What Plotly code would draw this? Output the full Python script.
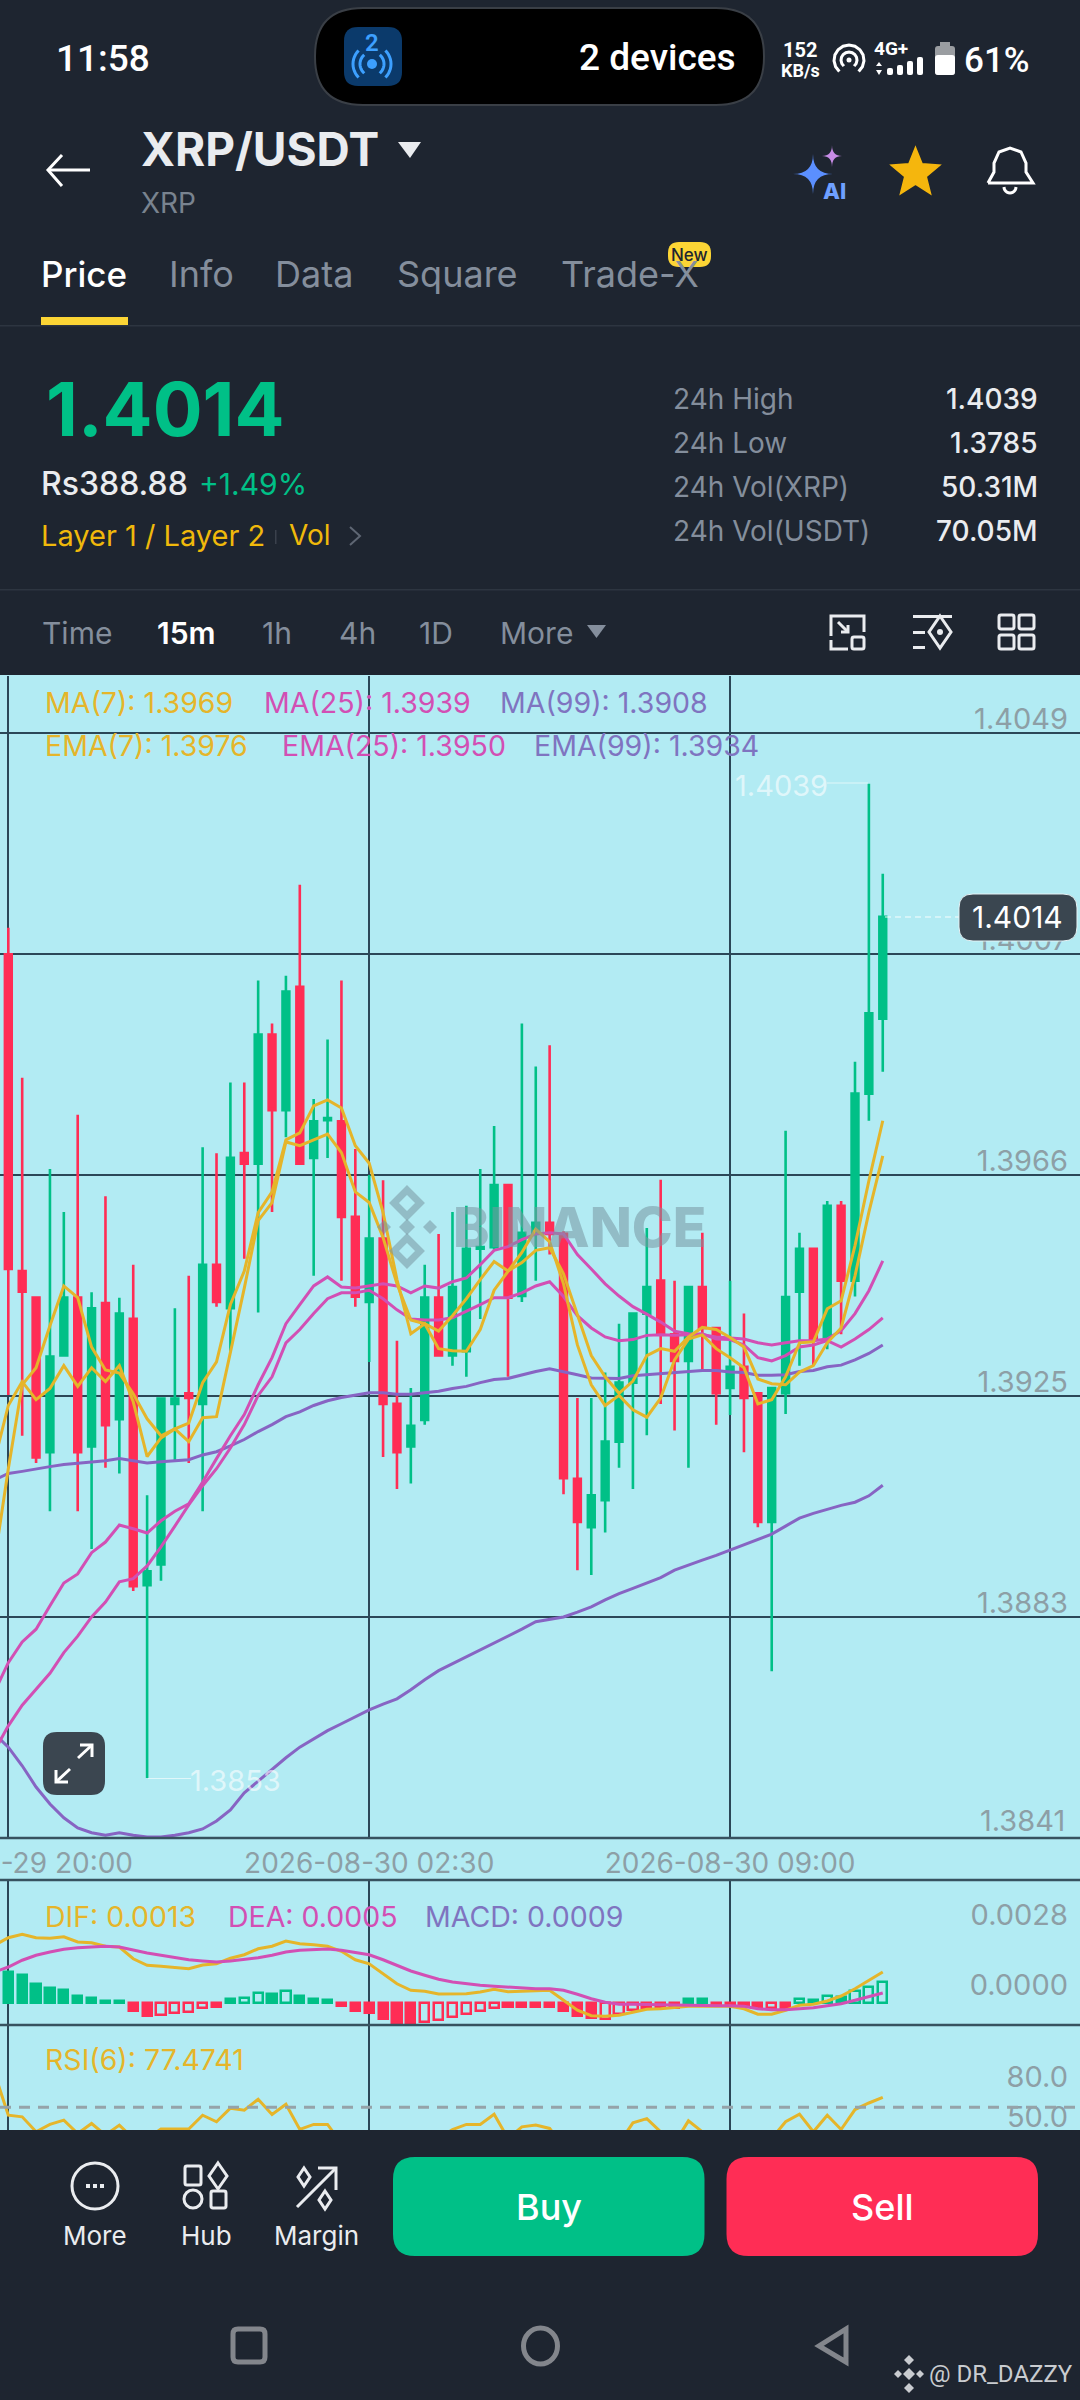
import math
import pandas as pd
import plotly.graph_objects as go

# 15 minute candles
candle_time = pd.date_range("2026-08-29 20:00", periods=64, freq="15min")
line_time = pd.date_range("2026-08-29 19:45", periods=65, freq="15min")

candle_open = [
    1.40073, 1.39477, 1.39427, 1.39136, 1.39318, 1.39427, 1.39147, 1.39417, 1.39198, 1.39387,
    1.38886, 1.38925, 1.39227, 1.39247, 1.39227, 1.39489, 1.39407, 1.39699, 1.39679, 1.39922,
    1.3978, 1.40012, 1.3969, 1.39761, 1.39759, 1.39579, 1.39419, 1.39538, 1.39227, 1.39147,
    1.39197, 1.39427, 1.39318, 1.39326, 1.39519, 1.39522, 1.39639, 1.3943, 1.39549, 1.39568,
    1.39547, 1.39086, 1.38995, 1.39046, 1.39156, 1.39267, 1.39397, 1.39459, 1.39358, 1.39308,
    1.39447, 1.3937, 1.39257, 1.39297, 1.39247, 1.39005, 1.39247, 1.39438, 1.39519, 1.3935,
    1.396, 1.39459, 1.39811, 1.39952]
candle_high = [
    1.40123, 1.39841, 1.39427, 1.39669, 1.39588, 1.39771, 1.39437, 1.39618, 1.39427, 1.39489,
    1.39055, 1.39238, 1.39407, 1.39468, 1.3971, 1.39699, 1.39832, 1.39832, 1.40024, 1.39943,
    1.40033, 1.40204, 1.39801, 1.39913, 1.40024, 1.39707, 1.39658, 1.39648, 1.39346, 1.39257,
    1.39489, 1.39547, 1.39588, 1.396, 1.39669, 1.3975, 1.39639, 1.39943, 1.39862, 1.39902,
    1.39552, 1.39238, 1.39238, 1.39286, 1.39378, 1.39397, 1.39558, 1.39649, 1.39459, 1.39447,
    1.39549, 1.3937, 1.39459, 1.39397, 1.39247, 1.39257, 1.39741, 1.39549, 1.39519, 1.39609,
    1.39609, 1.39871, 1.40394, 1.40225]
candle_low = [
    1.39244, 1.39167, 1.39116, 1.39025, 1.39318, 1.39025, 1.38954, 1.39107, 1.39096, 1.38875,
    1.38523, 1.38894, 1.39118, 1.39116, 1.39025, 1.3941, 1.39327, 1.395, 1.39399, 1.39588,
    1.39729, 1.39679, 1.39468, 1.3969, 1.39459, 1.3941, 1.39306, 1.39127, 1.39067, 1.39077,
    1.39188, 1.39316, 1.39299, 1.39278, 1.39387, 1.39517, 1.39278, 1.39419, 1.39459, 1.39508,
    1.39057, 1.38914, 1.38905, 1.38985, 1.39107, 1.39067, 1.39168, 1.39227, 1.39177, 1.39107,
    1.39291, 1.39188, 1.39206, 1.39136, 1.38995, 1.38724, 1.39208, 1.39299, 1.39299, 1.3933,
    1.39358, 1.39429, 1.3976, 1.39852]
candle_close = [
    1.39481, 1.39438, 1.39126, 1.39316, 1.39427, 1.39136, 1.39407, 1.39187, 1.39397, 1.38884,
    1.38912, 1.39237, 1.39237, 1.39238, 1.39489, 1.39419, 1.3969, 1.39679, 1.39922, 1.3978,
    1.40003, 1.39679, 1.39759, 1.39765, 1.39579, 1.39429, 1.39538, 1.39227, 1.39136, 1.39186,
    1.39427, 1.39318, 1.39447, 1.39519, 1.39522, 1.39639, 1.39427, 1.39549, 1.39568, 1.39547,
    1.39087, 1.39005, 1.39055, 1.39156, 1.39267, 1.39397, 1.39447, 1.39358, 1.39308, 1.39447,
    1.3937, 1.39247, 1.39297, 1.39238, 1.39005, 1.39257, 1.39428, 1.39519, 1.39348, 1.396,
    1.39459, 1.39811, 1.39962, 1.40144]

ema7 = [
    1.3893, 1.39105, 1.39263, 1.39295, 1.39374, 1.39449, 1.39427, 1.39334, 1.39291, 1.39285,
    1.39246, 1.39199, 1.39167, 1.3918, 1.39191, 1.39267, 1.39306, 1.39414, 1.39477, 1.39587,
    1.39626, 1.39724, 1.39737, 1.39788, 1.39799, 1.39784, 1.39713, 1.3968, 1.39587, 1.39461,
    1.39359, 1.39378, 1.39331, 1.39327, 1.39326, 1.39367, 1.39441, 1.39477, 1.39512, 1.39556,
    1.39532, 1.39453, 1.39338, 1.39263, 1.39224, 1.39243, 1.39216, 1.39202, 1.39238, 1.3931,
    1.39349, 1.39357, 1.39331, 1.39314, 1.39295, 1.39227, 1.39235, 1.39278, 1.39342, 1.39344,
    1.39406, 1.39421, 1.39525, 1.39647, 1.3976]
ma7 = [
    1.3912, 1.39224, 1.39269, 1.39235, 1.39256, 1.39299, 1.3926, 1.39295, 1.39269, 1.39299,
    1.39231, 1.39128, 1.39163, 1.3918, 1.39156, 1.39201, 1.39203, 1.39321, 1.39445, 1.39572,
    1.39606, 1.3972, 1.39713, 1.39724, 1.39735, 1.397, 1.39626, 1.39606, 1.3954, 1.39453,
    1.39385, 1.39378, 1.39364, 1.39393, 1.39425, 1.39461, 1.39495, 1.39477, 1.39493, 1.39516,
    1.39521, 1.39472, 1.39393, 1.39318, 1.39278, 1.39247, 1.3927, 1.39318, 1.39331, 1.39326,
    1.39353, 1.39371, 1.39367, 1.39352, 1.39334, 1.39274, 1.39265, 1.39263, 1.39287, 1.39299,
    1.39342, 1.3937, 1.39468, 1.39588, 1.39694]
ema25 = [
    1.38685, 1.3874, 1.38779, 1.38803, 1.38847, 1.3889, 1.38907, 1.38947, 1.38967, 1.38999,
    1.38992, 1.38984, 1.39007, 1.39025, 1.39039, 1.3908, 1.39124, 1.39167, 1.39207, 1.39263,
    1.39314, 1.39378, 1.39414, 1.39449, 1.39466, 1.39447, 1.39445, 1.39449, 1.39453, 1.39449,
    1.39436, 1.39449, 1.39445, 1.39457, 1.39464, 1.39489, 1.39516, 1.39523, 1.39536, 1.39547,
    1.39549, 1.39547, 1.39508, 1.39481, 1.39453, 1.3943, 1.3941, 1.39396, 1.39381, 1.39364,
    1.39359, 1.39357, 1.39353, 1.39351, 1.39349, 1.39342, 1.39338, 1.39342, 1.39346, 1.39346,
    1.39349, 1.39365, 1.39397, 1.3944, 1.39496]
ma25 = [
    1.38574, 1.38621, 1.3866, 1.38689, 1.3872, 1.38759, 1.3879, 1.38826, 1.38854, 1.38892,
    1.38898, 1.38922, 1.38958, 1.38997, 1.39037, 1.39073, 1.39105, 1.39144, 1.39188, 1.39243,
    1.39278, 1.39342, 1.39367, 1.39397, 1.39425, 1.39436, 1.39436, 1.39441, 1.39425, 1.39404,
    1.39387, 1.39385, 1.39385, 1.39389, 1.39401, 1.39414, 1.39427, 1.39427, 1.39436, 1.39449,
    1.39457, 1.39429, 1.39393, 1.3937, 1.39353, 1.39346, 1.39348, 1.39356, 1.39357, 1.39356,
    1.39357, 1.39359, 1.39349, 1.39348, 1.39338, 1.39314, 1.39308, 1.39318, 1.39334, 1.39338,
    1.39346, 1.39334, 1.39349, 1.39367, 1.39389]
ema99 = [
    1.39084, 1.39096, 1.391, 1.39105, 1.39109, 1.39113, 1.39115, 1.39118, 1.3912, 1.39124,
    1.3912, 1.39116, 1.39118, 1.3912, 1.39122, 1.39131, 1.39137, 1.39148, 1.3916, 1.39175,
    1.39188, 1.39203, 1.39212, 1.39224, 1.39233, 1.39239, 1.39243, 1.39248, 1.39248, 1.39245,
    1.39245, 1.39248, 1.39251, 1.39256, 1.3926, 1.39267, 1.39273, 1.39275, 1.39282, 1.39288,
    1.39293, 1.39288, 1.39282, 1.39276, 1.39275, 1.39275, 1.3928, 1.39282, 1.39284, 1.39287,
    1.39288, 1.3929, 1.3929, 1.39287, 1.39286, 1.39281, 1.39281, 1.39282, 1.39288, 1.3929,
    1.39297, 1.393, 1.3931, 1.39322, 1.39338]
ma99 = [
    1.38606, 1.38581, 1.38546, 1.38506, 1.38474, 1.38448, 1.38429, 1.3842, 1.38415, 1.3842,
    1.38415, 1.38412, 1.38412, 1.38415, 1.3842, 1.38427, 1.38442, 1.38463, 1.38495, 1.38517,
    1.38538, 1.38561, 1.38581, 1.38596, 1.38612, 1.38625, 1.38638, 1.38651, 1.38662, 1.38672,
    1.38689, 1.38708, 1.38725, 1.38738, 1.38751, 1.38764, 1.38777, 1.38789, 1.38803, 1.38817,
    1.38822, 1.38826, 1.38835, 1.38845, 1.38858, 1.3887, 1.3888, 1.3889, 1.389, 1.38914,
    1.38924, 1.38933, 1.38942, 1.38952, 1.38961, 1.38971, 1.38982, 1.38997, 1.39012, 1.39021,
    1.39029, 1.39036, 1.39042, 1.39054, 1.39074]

macd_hist = [
    0.00137, 0.00124, 0.00111, 0.00077, 0.00061, 0.00053, 0.00027, 0.0002, 0.00009, 0.00009,
    -0.00032, -0.00052, -0.00047, -0.0004, -0.00037, -0.00019, -0.00017, 0.00015, 0.0002, 0.0004,
    0.00035, 0.00048, 0.00027, 0.00016, 0.00011, -0.00013, -0.00033, -0.0004, -0.00064, -0.0008,
    -0.00085, -0.00076, -0.00069, -0.00056, -0.00043, -0.00032, -0.00019, -0.00017, -0.00017, -0.00017,
    -0.00017, -0.00033, -0.00053, -0.0006, -0.00063, -0.00043, -0.00027, -0.00019, -0.00019, -0.00019,
    0.00015, 0.00015, -0.0001, -0.00005, -0.00013, -0.00019, -0.0002, -0.00019, 0.00017, 0.00011,
    0.00028, 0.00024, 0.00047, 0.00064, 0.00084]
# positions in macd_hist that are drawn as outlines
macd_hollow = [12, 13, 14, 15, 18, 19, 21, 31, 32, 33, 34, 35, 36, 44, 45, 46, 56, 58, 60, 62, 63, 64]
dif = [
    0.00231, 0.00261, 0.00275, 0.00261, 0.00259, 0.00265, 0.00244, 0.00241, 0.00227, 0.00224,
    0.00177, 0.00151, 0.00147, 0.00141, 0.00137, 0.00152, 0.00157, 0.00179, 0.00193, 0.00217,
    0.00227, 0.00248, 0.00237, 0.00233, 0.00227, 0.00207, 0.00173, 0.00157, 0.00117, 0.00077,
    0.00051, 0.00047, 0.00036, 0.00035, 0.00037, 0.00044, 0.00055, 0.00045, 0.00048, 0.00051,
    0.00051, 0.00011, -0.00029, -0.00051, -0.00053, -0.00049, -0.00036, -0.00025, -0.00023, -0.00019,
    -0.00013, -0.00013, -0.00013, -0.00013, -0.00023, -0.00045, -0.00045, -0.00029, -0.00009, -0.00005,
    0.00008, 0.00028, 0.00057, 0.00091, 0.00124]
dea = [
    0.00124, 0.00144, 0.00171, 0.00191, 0.00204, 0.00215, 0.00221, 0.00224, 0.00227, 0.00224,
    0.00211, 0.002, 0.00191, 0.00181, 0.00173, 0.00168, 0.00164, 0.00168, 0.00173, 0.00181,
    0.00191, 0.00204, 0.00211, 0.00215, 0.00216, 0.00211, 0.00203, 0.00193, 0.00173, 0.00151,
    0.00128, 0.00111, 0.00095, 0.00084, 0.00077, 0.00071, 0.00067, 0.00063, 0.0006, 0.00057,
    0.00057, 0.00051, 0.00035, 0.00017, 0.00003, -0.00005, -0.00005, -0.00005, -0.00007, -0.00008,
    -0.00009, -0.00011, -0.00011, -0.00011, -0.00013, -0.00023, -0.00027, -0.00027, -0.00023, -0.00019,
    -0.00011, -0.00003, 0.00011, 0.00024, 0.0004]
rsi6 = [
    95.9, 64.0, 62.8, 51.6, 57.1, 60.3, 50.3, 57.8, 49.1, 56.6,
    46.6, 46.6, 53.6, 53.6, 53.6, 64.0, 59.1, 69.3, 67.8, 76.0,
    64.5, 72.2, 53.3, 57.1, 57.1, 42.9, 40.4, 36.7, 35.4, 34.2,
    36.7, 40.4, 46.6, 53.3, 57.1, 57.1, 64.8, 46.6, 55.3, 56.6,
    54.1, 40.4, 35.4, 34.2, 37.9, 42.9, 58.3, 61.5, 51.6, 42.9,
    59.8, 51.6, 40.4, 36.7, 36.7, 40.4, 46.6, 59.1, 64.8, 51.6,
    64.0, 53.3, 68.3, 73.2, 77.47]

price_ticks = [1.4049, 1.40074, 1.39658, 1.39242, 1.38826]
price_labels = ["1.4049", "1.4007", "1.3966", "1.3925", "1.3883"]

BG = "#1E2530"
PANE = "#B2EBF3"
GREEN = "#00C087"
RED = "#FF2D55"
YELLOW = "#E5B52A"
MAGENTA = "#D24FB4"
PURPLE = "#8764C3"
GRID = "#2B4757"
AXIS_TXT = "#8D9FA6"
FONT = "Inter"
W, H = 1080, 2400


def px(x):
    return x / W


def py(y):
    return 1 - y / H


shapes = []
notes = []


def txt(x, y, s, size, color, anchor="left", weight=400, family=FONT):
    notes.append(dict(x=px(x), y=py(y), xref="paper", yref="paper", text=s, showarrow=False,
                      xanchor=anchor, yanchor="middle", borderpad=0,
                      font=dict(size=size, color=color, family=family, weight=weight)))


def path(d, fill=None, line=None, lw=0, layer="above", dash=None):
    shape = dict(type="path", path=d, xref="paper", yref="paper", layer=layer,
                 fillcolor=fill or "rgba(0,0,0,0)",
                 line=dict(color=line or "rgba(0,0,0,0)", width=lw, dash=dash or "solid"))
    shapes.append(shape)


def poly(points, fill=None, line=None, lw=0, close=False, dash=None):
    d = "M" + " L".join(f"{px(a):.5f},{py(b):.5f}" for a, b in points) + (" Z" if close else "")
    path(d, fill, line, lw, dash=dash)


def box(x0, y0, x1, y1, fill=None, line=None, lw=0, r=0, layer="above"):
    P = lambda a, b: f"{px(a):.5f},{py(b):.5f}"
    d = (f"M{P(x0 + r, y0)} L{P(x1 - r, y0)} Q{P(x1, y0)} {P(x1, y0 + r)} "
         f"L{P(x1, y1 - r)} Q{P(x1, y1)} {P(x1 - r, y1)} L{P(x0 + r, y1)} "
         f"Q{P(x0, y1)} {P(x0, y1 - r)} L{P(x0, y0 + r)} Q{P(x0, y0)} {P(x0 + r, y0)} Z")
    path(d, fill, line, lw, layer)


def circle(cx, cy, rx, ry=None, fill=None, line=None, lw=0):
    ry = ry or rx
    shapes.append(dict(type="circle", xref="paper", yref="paper", layer="above",
                       x0=px(cx - rx), x1=px(cx + rx), y0=py(cy + ry), y1=py(cy - ry),
                       fillcolor=fill or "rgba(0,0,0,0)",
                       line=dict(color=line or "rgba(0,0,0,0)", width=lw)))


def spark(cx, cy, rx, ry, fill):
    P = lambda a, b: f"{px(a):.5f},{py(b):.5f}"
    d = (f"M{P(cx, cy - ry)} Q{P(cx, cy)} {P(cx + rx, cy)} Q{P(cx, cy)} {P(cx, cy + ry)} "
         f"Q{P(cx, cy)} {P(cx - rx, cy)} Q{P(cx, cy)} {P(cx, cy - ry)} Z")
    path(d, fill)


def diamond(cx, cy, rx, ry=None, fill=None, line=None, lw=0):
    ry = ry or rx
    poly([(cx, cy - ry), (cx + rx, cy), (cx, cy + ry), (cx - rx, cy)], fill, line, lw, True)


def arc(cx, cy, r, a0, a1, line, lw):
    pts = []
    for k in range(13):
        a = math.radians(a0 + (a1 - a0) * k / 12)
        pts.append((cx + r * math.cos(a), cy + r * math.sin(a)))
    poly(pts, None, line, lw)


# pane background and the bottom bar that cuts the RSI pane off
box(0, 675, W, 2132, PANE, layer="below")
box(0, 2130, W, H, BG)

# separators between panes
for sep in [1838, 1880, 2025]:
    shapes.append(dict(type="line", xref="paper", yref="paper", x0=0, x1=1, y0=py(sep), y1=py(sep),
                       layer="above", line=dict(color="#37525F", width=2.5)))
# RSI band
shapes.append(dict(type="line", xref="paper", yref="y3", x0=0, x1=1, y0=70, y1=70, layer="above",
                   line=dict(color="#95A3A9", width=3, dash="11px,8px")))

# status bar
txt(55, 58, "11:58", 37, "#FFFFFF", weight=500, family="Roboto")
box(315, 8, 764, 105, "#000000", "#3A3F46", 2, 48)
box(344, 27, 402, 86, "#0B3A6B", r=14)
txt(372, 43, "2", 24, "#3DA0FF", "center", 600, "Roboto")
circle(372, 64, 5, fill="#3DA0FF")
arc(372, 64, 12, -50, 50, "#3DA0FF", 3)
arc(372, 64, 12, 130, 230, "#3DA0FF", 3)
arc(372, 64, 19, -45, 45, "#3DA0FF", 3)
arc(372, 64, 19, 135, 225, "#3DA0FF", 3)
txt(737, 57, "2 devices", 37, "#FFFFFF", "right", 500, "Roboto")
txt(800, 50, "152", 20, "#FFFFFF", "center", 700, "Roboto")
txt(800, 71, "KB/s", 18, "#FFFFFF", "center", 700, "Roboto")
arc(849, 60, 15, 130, 410, "#FFFFFF", 3)
arc(849, 60, 8, 130, 410, "#FFFFFF", 3)
circle(849, 60, 2.5, fill="#FFFFFF")
txt(891, 49, "4G+", 19, "#FFFFFF", "center", 700, "Roboto")
for bx, top in [(890, 68), (900, 65), (910, 61), (920, 57)]:
    box(bx - 3, top, bx + 3, 75, "#FFFFFF", r=2)
poly([(879, 62), (882, 66), (876, 66)], "#FFFFFF", close=True)
poly([(879, 75), (882, 70), (876, 70)], "#FFFFFF", close=True)
box(935, 46, 955, 75, "#9A9DA1", r=3)
box(940, 42, 950, 46, "#9A9DA1")
box(935, 55, 955, 75, "#FFFFFF", r=3)
txt(963, 60, "61%", 35, "#FFFFFF", weight=500, family="Roboto")

# header
poly([(48, 170), (90, 170)], None, "#FFFFFF", 3)
poly([(62, 155), (48, 170), (62, 186)], None, "#FFFFFF", 3)
txt(140, 149, "XRP/USDT", 46, "#EAECEF", weight=700)
poly([(398, 142), (421, 142), (410, 158)], "#EAECEF", close=True)
txt(140, 203, "XRP", 28, "#79838F")
spark(813, 174, 20, 20, "#5B8FFF")
spark(832, 156, 10, 11, "#C78CE6")
txt(834, 191, "AI", 22, "#6FA0FF", "center", 800)
star_pts = []
for k in range(10):
    r_ = 25 if k % 2 == 0 else 11
    a = math.radians(-90 + 36 * k)
    star_pts.append((915.5 + r_ * math.cos(a), 173 + r_ * math.sin(a)))
poly(star_pts, "#F5B60D", "#F5B60D", 2, True)
bell = [(988, 183), (994, 172), (994, 163), (999, 152), (1010, 148), (1021, 152), (1026, 163), (1026, 172),
        (1033, 183), (988, 183)]
poly(bell, None, "#FFFFFF", 3)
arc(1010, 187, 6, 0, 180, "#FFFFFF", 3)

# tabs
txt(40, 274, "Price", 35, "#FFFFFF", weight=500)
for tx, name in [(168, "Info"), (274, "Data"), (396, "Square"), (560, "Trade-X")]:
    txt(tx, 274, name, 36, "#848E9C")
box(668, 242, 711, 267, "#FCD535", r=11)
txt(689.5, 255, "New", 17, "#1E2530", "center", 500)
box(41, 317, 128, 325, "#FCD535")
box(0, 325, W, 326.5, "#2D3540")

# price summary
txt(45, 409, "1.4014", 74, GREEN, weight=700)
txt(40, 483, "Rs388.88", 32, "#EAECEF", weight=500)
txt(198, 484, "+1.49%", 30, GREEN)
txt(40, 535, "Layer 1 / Layer 2", 29, "#F0B90B")
box(275, 530, 276.5, 544, "#3A414C")
txt(288, 535, "Vol", 28, "#F0B90B")
poly([(350, 527), (360, 536), (350, 545)], None, "#5E6673", 2)
rows = [(399, "24h High", "1.4039"), (443, "24h Low", "1.3785"),
        (487, "24h Vol(XRP)", "50.31M"), (531, "24h Vol(USDT)", "70.05M")]
for ry, lab, val in rows:
    txt(672, ry, lab, 28, "#848E9C")
    txt(1039, ry, val, 28, "#EAECEF", "right", 500)
box(0, 589, W, 590.5, "#2D3540")

# interval bar
txt(41, 633, "Time", 30, "#848E9C")
txt(156, 633, "15m", 30, "#FFFFFF", weight=600)
for tx, name in [(261, "1h"), (338, "4h"), (418, "1D"), (499, "More")]:
    txt(tx, 633, name, 30, "#848E9C")
poly([(587, 625), (606, 625), (596.5, 638)], "#848E9C", close=True)
poly([(831, 636), (831, 616), (864, 616), (864, 632)], None, "#EAECEF", 3)
poly([(831, 640), (831, 649), (848, 649)], None, "#EAECEF", 3)
poly([(838, 622), (848, 632)], None, "#EAECEF", 3)
poly([(841, 632), (848, 632), (848, 625)], None, "#EAECEF", 3)
box(852, 637, 864, 649, None, "#EAECEF", 3, 2)
box(913, 615, 952, 618, "#EAECEF")
box(913, 631, 925, 634, "#EAECEF")
box(913, 646, 925, 649, "#EAECEF")
diamond(940, 632, 11, 16, None, "#EAECEF", 3)
circle(940, 632, 3, fill="#EAECEF")
for bx, by in [(999, 615), (1019, 615), (999, 635), (1019, 635)]:
    box(bx, by, bx + 15, by + 14, None, "#EAECEF", 3, 2)

# chart legends
for tx, ty, s, c in [(44, 702, "MA(7): 1.3969", YELLOW), (263, 702, "MA(25): 1.3939", MAGENTA),
                     (499, 702, "MA(99): 1.3908", "#7F74C0"), (44, 746, "EMA(7): 1.3976", YELLOW),
                     (281, 746, "EMA(25): 1.3950", MAGENTA), (533, 746, "EMA(99): 1.3934", "#7F74C0"),
                     (44, 1916, "DIF: 0.0013", YELLOW), (227, 1916, "DEA: 0.0005", MAGENTA),
                     (424, 1916, "MACD: 0.0009", "#7F74C0"), (44, 2059, "RSI(6): 77.4741", YELLOW)]:
    txt(tx, ty, s, 28.5, c)

# bottom price label sits on the pane edge, plotly drops it as a tick label
txt(1066, 1820, "1.3841", 29, AXIS_TXT, "right")

# watermark
wm = "rgba(120,150,160,0.55)"
diamond(407, 1203, 13, 13, None, wm, 7)
diamond(407, 1251, 13, 13, None, wm, 7)
diamond(407, 1227, 8, 8, wm)
diamond(384, 1227, 7, 7, wm)
diamond(430, 1227, 7, 7, wm)
txt(452, 1227, "BINANCE", 55, wm, weight=800)

# high / low / last price tags
txt(734, 785, "1.4039", 29, "rgba(255,255,255,0.6)")
box(827, 782.5, 868, 783.5, "rgba(255,255,255,0.6)")
txt(189, 1780, "1.3853", 29, "rgba(255,255,255,0.6)")
box(148, 1778, 191, 1779, "rgba(255,255,255,0.6)")
poly([(885, 917), (959, 917)], None, "rgba(255,255,255,0.6)", 1.5, dash="6px,4px")
box(959, 894, 1077, 941, "#3A4650", "#E6F2F5", 1, 14)
txt(1018, 917, "1.4014", 30, "#FFFFFF", "center")

# expand button
box(43, 1732, 105, 1795, "#3B4650", r=14)
poly([(56, 1782), (70, 1769)], None, "#FFFFFF", 3)
poly([(78, 1758), (92, 1745)], None, "#FFFFFF", 3)
poly([(80, 1745), (92, 1745), (92, 1757)], None, "#FFFFFF", 3)
poly([(56, 1770), (56, 1782), (68, 1782)], None, "#FFFFFF", 3)

# bottom bar
white = "#EAECEF"
circle(95, 2186, 23, line=white, lw=3)
for dx in (-7, 0, 7):
    box(95 + dx - 2, 2184, 95 + dx + 2, 2188, white)
txt(95, 2235, "More", 26, white, "center")
box(185, 2166, 201, 2185, None, white, 3, 2)
diamond(218, 2176, 9, 13, None, white, 3)
circle(193, 2199, 9, line=white, lw=3)
box(211, 2191, 226, 2208, None, white, 3, 2)
txt(206, 2235, "Hub", 26, white, "center")
poly([(297, 2207), (335, 2169)], None, white, 3)
poly([(318, 2168), (336, 2168), (336, 2190)], None, white, 3)
diamond(304, 2177, 6, 9, None, white, 3)
diamond(325, 2200, 6, 9, None, white, 3)
txt(316, 2235, "Margin", 26, white, "center")
box(393, 2157, 704.5, 2256, GREEN, r=22)
txt(549, 2207, "Buy", 36, "#FFFFFF", "center", 500)
box(726.5, 2157, 1038, 2256, RED, r=22)
txt(882, 2207, "Sell", 36, "#FFFFFF", "center", 500)

# navigation keys
nav = "#83868C"
box(233, 2329, 265, 2362, None, nav, 5, 5)
circle(540.5, 2346, 17, 18, line=nav, lw=5)
poly([(846, 2329), (846, 2362), (819, 2346)], None, nav, 5, True)
mark = "#C9CCD0"
diamond(909, 2374, 6, 6, mark)
diamond(909, 2360, 5, 5, mark)
diamond(909, 2388, 5, 5, mark)
diamond(898, 2374, 4, 4, mark)
diamond(920, 2374, 4, 4, mark)
txt(928, 2374, "@ DR_DAZZY", 24, mark, family="Roboto")

fig = go.Figure()
fig.add_trace(go.Candlestick(
    x=candle_time, open=candle_open, high=candle_high, low=candle_low, close=candle_close,
    whiskerwidth=0, xaxis="x", yaxis="y",
    increasing=dict(line=dict(color=GREEN, width=2.6), fillcolor=GREEN),
    decreasing=dict(line=dict(color=RED, width=2.6), fillcolor=RED)))
for series, color in [(ma99, PURPLE), (ema99, PURPLE), (ma25, MAGENTA), (ema25, MAGENTA), (ma7, YELLOW), (ema7, YELLOW)]:
    fig.add_trace(go.Scatter(x=line_time, y=series, mode="lines", xaxis="x", yaxis="y",
                             line=dict(color=color, width=3)))

bar_color = [GREEN if v > 0 else RED for v in macd_hist]
bar_fill = [PANE if i in macd_hollow else c for i, c in enumerate(bar_color)]
fig.add_trace(go.Bar(x=line_time, y=macd_hist, xaxis="x2", yaxis="y2", width=900000 * 0.66,
                     marker=dict(color=bar_fill, line=dict(color=bar_color, width=2.5))))
fig.add_trace(go.Scatter(x=line_time, y=dif, mode="lines", xaxis="x2", yaxis="y2", line=dict(color=YELLOW, width=3)))
fig.add_trace(go.Scatter(x=line_time, y=dea, mode="lines", xaxis="x2", yaxis="y2", line=dict(color=MAGENTA, width=3)))
fig.add_trace(go.Scatter(x=line_time, y=rsi6, mode="lines", xaxis="x3", yaxis="y3", line=dict(color=YELLOW, width=3)))

time_axis = dict(range=["2026-08-29 19:51:01", "2026-08-30 15:18:09"], type="date", tick0="2026-08-29 20:00",
                 dtick=23400000, showgrid=True, gridcolor=GRID, gridwidth=1.5, zeroline=False, automargin=False,
                 showline=False, ticks="", rangeslider=dict(visible=False))
value_axis = dict(side="right", ticklabelposition="inside top", ticklabelstandoff=9, ticklabelshift=3, showgrid=False,
                  zeroline=False, showline=False, ticks="", automargin=False,
                  tickfont=dict(size=29, color=AXIS_TXT, family=FONT))

fig.update_layout(
    width=W, height=H, margin=dict(l=0, r=0, t=0, b=0), paper_bgcolor=BG, plot_bgcolor=PANE,
    showlegend=False, hovermode=False, bargap=0, barmode="overlay", boxgap=0.3,
    shapes=shapes, annotations=notes,
    xaxis=dict(time_axis, anchor="y", domain=[0, 1], tickformat="%Y-%m-%d %H:%M", showticklabels=True,
               ticklabeloverflow="allow", ticklabelstandoff=6,
               tickfont=dict(size=28, color=AXIS_TXT, family=FONT)),
    xaxis2=dict(time_axis, anchor="y2", domain=[0, 1], showticklabels=False),
    xaxis3=dict(time_axis, anchor="y3", domain=[0, 1], showticklabels=False),
    yaxis=dict(value_axis, anchor="x", domain=[py(1838), py(676)], range=[1.3841, 1.40597], ticklabelshift=6,
               tickvals=price_ticks, ticktext=price_labels, showgrid=True, gridcolor=GRID, gridwidth=1.5),
    yaxis2=dict(value_axis, anchor="x2", domain=[py(2025), py(1881)], range=[-0.00088, 0.00488], ticklabelshift=2,
                tickvals=[0.0028, 0], ticktext=["0.0028", "0.0000"]),
    yaxis3=dict(value_axis, anchor="x3", domain=[py(2160), py(2026)], range=[30.4, 131],
                tickvals=[80, 50], ticktext=["80.0", "50.0"]),
)

fig.write_html("out.html", config=dict(displayModeBar=False), post_script="document.body.style.margin='0'")
